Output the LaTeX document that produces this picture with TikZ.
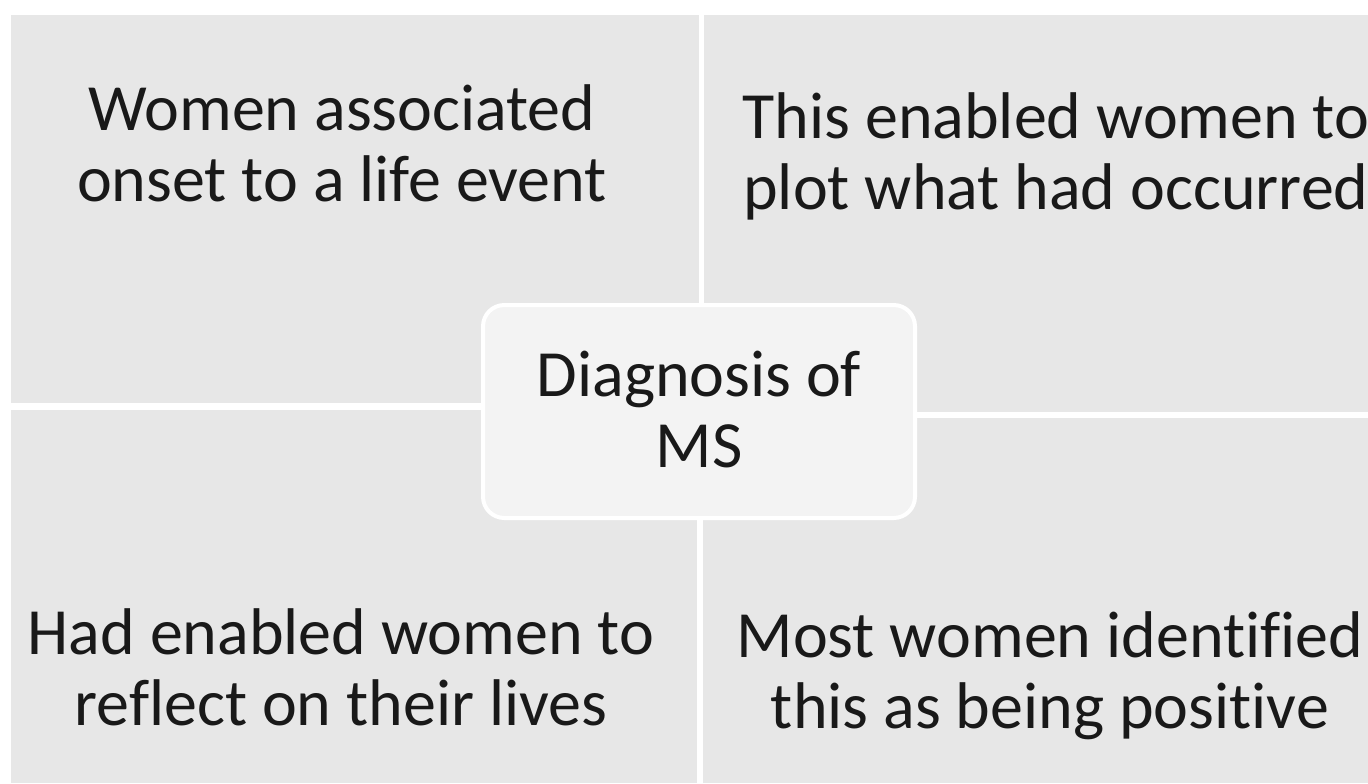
\documentclass[tikz,border=0pt]{standalone}
\usepackage{fontspec}
\setmainfont{Carlito}[Ligatures=NoCommon]
\usepackage{xcolor}
\usetikzlibrary{positioning}
\definecolor{quadgray}{RGB}{231,231,231}
\definecolor{hubgray}{RGB}{243,243,243}

\tikzset{
    quadtext/.style={anchor=base, align=center, text=black!90,
        font=\fontsize{49.5}{53}\selectfont},
    hubbox/.style={fill=hubgray, draw=white, line width=3pt, rounded corners=16pt}
}

\begin{document}
\begin{tikzpicture}[x=0.75pt, y=-0.75pt]
                % Page
                \fill[white] (0,0) rectangle (1368,783);
                \useasboundingbox (0,0) rectangle (1368,783);

                % Quadrants
                \foreach \xa/\ya/\xb/\yb in {11/15/699/403, 704/15/1368/412, 11/410/697/783, 703/418/1368/783} {
                    \fill[quadgray] (\xa,\ya) rectangle (\xb,\yb);
                }

                % Quadrant texts (anchored on the last line)
                \node[quadtext] (onset) at (342,201) {Women associated\\onset to a life event};
                \node[quadtext] (plot) at (1056,209) {This enabled women to\\plot what had occurred};
                \node[quadtext] (reflect) at (341,725) {Had enabled women to\\reflect on their lives};
                \node[quadtext] (positive) at (1050,728) {Most women identified\\this as being positive};

                % Centre
                \fill[hubbox] (483,305) rectangle (915,518);
                \node[quadtext] (diagnosis) at (699,467) {Diagnosis of\\MS};
            \end{tikzpicture}
\end{document}
